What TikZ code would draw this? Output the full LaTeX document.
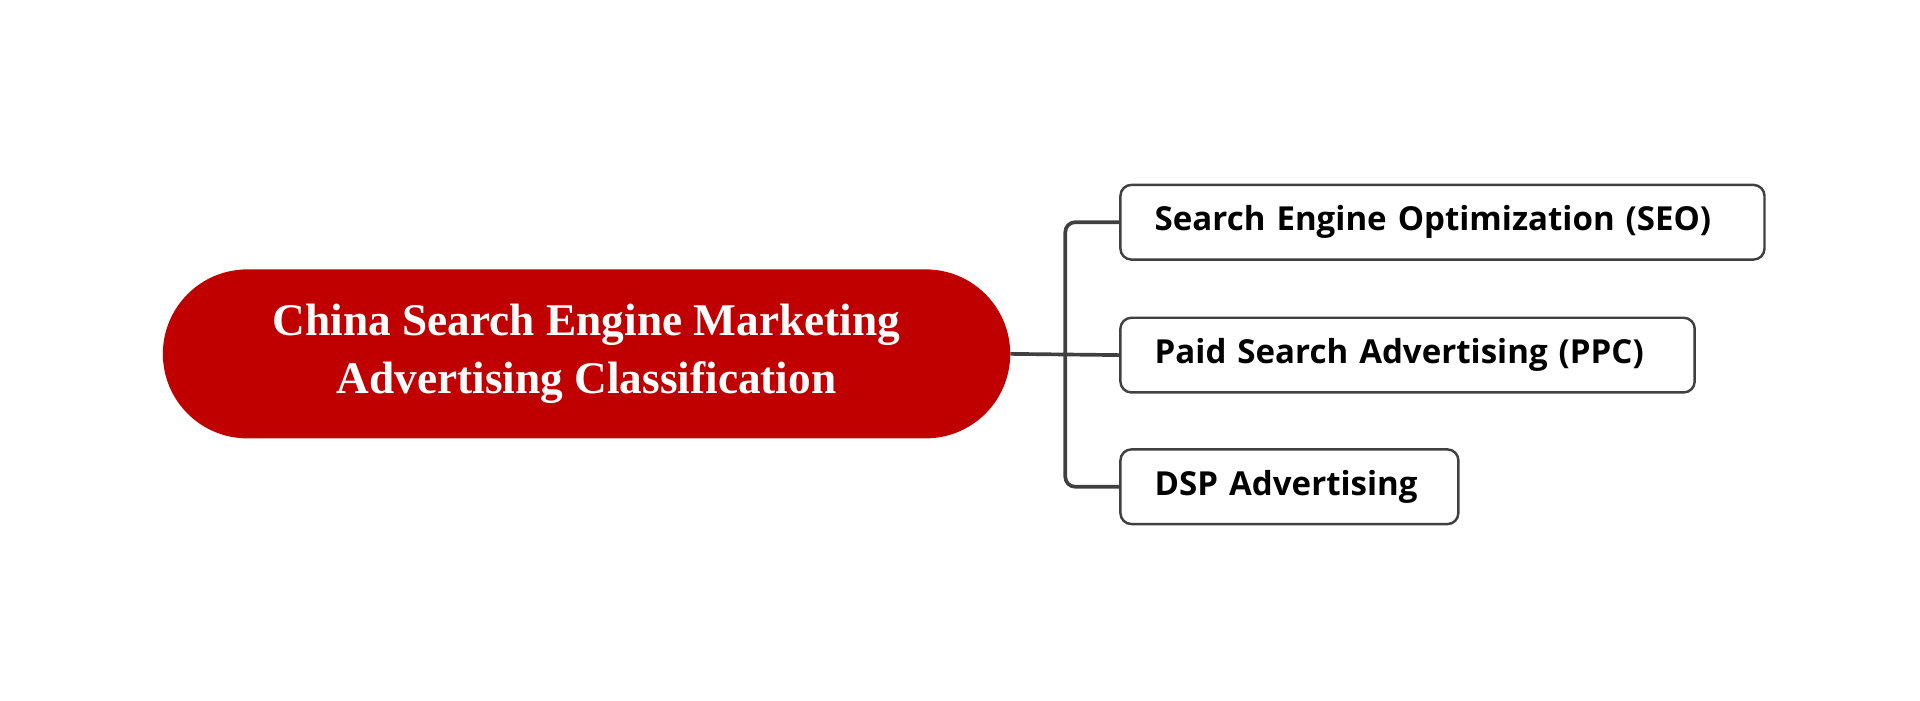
\documentclass[tikz,border=0pt]{standalone}
\usepackage{fontspec}
\setmainfont{Liberation Serif}
\newfontfamily\kidfont{Open Sans}
\definecolor{rootred}{HTML}{C00000}
\definecolor{edge}{HTML}{404040}
\begin{document}
\begin{tikzpicture}[x=1pt,y=-1pt,
  kid/.style={draw=edge,line width=2pt,rounded corners=9pt,fill=white,anchor=west,minimum height=61pt,inner xsep=28pt,font=\kidfont\bfseries\fontsize{27}{30}\selectfont,text=black},
  conn/.style={draw=edge,line width=3pt,rounded corners=8pt}]
\useasboundingbox (0,0) rectangle (1568,572);
\node[fill=rootred,rounded corners=69pt,minimum width=692pt,minimum height=138pt,text=white,align=center,font=\bfseries\fontsize{37}{47}\selectfont] (root) at (479,289) {China Search Engine Marketing\\Advertising Classification};
\node[kid,minimum width=518pt,text width=470pt] (a) at (914,181.5) {Search Engine Optimization (SEO)};
\node[kid,minimum width=469pt,text width=413pt] (b) at (914,290) {Paid Search Advertising (PPC)};
\node[kid,minimum width=276pt,text width=220pt] (c) at (914,397.5) {DSP Advertising};
\coordinate (j) at (870,289);
\draw[conn] (a.west) -- (a.west -| j) -- (c.west -| j) -- (c.west);
\draw[conn] (root.east) -- (b.west);
\end{tikzpicture}
\end{document}
